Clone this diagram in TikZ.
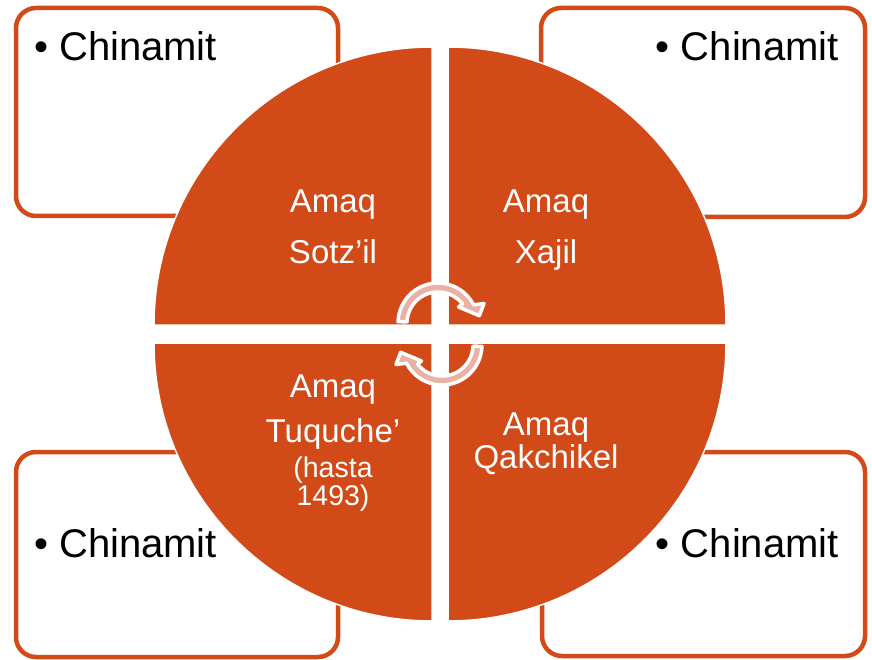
\documentclass[tikz,border=0pt]{standalone}
\usepackage{fontspec}
\setmainfont{Liberation Sans}
\definecolor{amaqorange}{RGB}{210,74,24}
\definecolor{arrowpink}{RGB}{233,178,164}

\begin{document}
\begin{tikzpicture}[x=1pt,y=-1pt,
	box/.style={draw=amaqorange,line width=4.5pt,rounded corners=20pt,fill=white},
	quad/.style={fill=amaqorange,draw=white,line width=1.5pt},
	cycle arrow/.style={fill=arrowpink,draw=white,line width=3.5pt,line join=round},
	chin/.style={inner sep=0pt,font=\fontsize{40}{48}\selectfont},
	amaq/.style={inner sep=0pt,anchor=base,text=white,font=\fontsize{33}{40}\selectfont},
	small/.style={amaq,font=\fontsize{28.5}{34}\selectfont}]
	\useasboundingbox (0,0) rectangle (872,660);
	% outer boxes
	\draw[box] (16,8) rectangle (338,216);
	\draw[box] (541,8) rectangle (865,217);
	\draw[box] (16,452) rectangle (338,657);
	\draw[box] (542,452) rectangle (865,656);
	% the four quarters
	\draw[quad] (432,325) -- ++(180:278) arc[start angle=180,end angle=270,radius=278] -- cycle;
	\draw[quad] (448,325) -- ++(270:278) arc[start angle=270,end angle=360,radius=278] -- cycle;
	\draw[quad] (448,343) -- ++(0:278) arc[start angle=0,end angle=90,radius=278] -- cycle;
	\draw[quad] (432,343) -- ++(90:278) arc[start angle=90,end angle=180,radius=278] -- cycle;
	% circular arrows
	\foreach \cx/\cy/\r in {438/323/0,442/345/180}{
	\begin{scope}[shift={(\cx,\cy)},rotate=\r]
		\draw[cycle arrow] (182:40) arc[start angle=182,end angle=333,radius=40]
			-- (337:50) -- (350:42) -- (322:26) -- (322:31)
			arc[start angle=322,end angle=182,radius=31] -- cycle;
	\end{scope}}
	% texts
	\node[chin,anchor=base west] (chinTL) at (34,61) {\makebox[25pt][l]{•}Chinamit};
	\node[chin,anchor=base east] (chinTR) at (839,61) {\makebox[25pt][l]{•}Chinamit};
	\node[chin,anchor=base west] (chinBL) at (34,557) {\makebox[25pt][l]{•}Chinamit};
	\node[chin,anchor=base east] (chinBR) at (839,557) {\makebox[25pt][l]{•}Chinamit};
	\node[amaq] (amaqTL) at (333,213) {Amaq};
	\node[amaq] (sotzil) at (333,263) {Sotz’il};
	\node[amaq] (amaqTR) at (546,213) {Amaq};
	\node[amaq] (xajil) at (546,263) {Xajil};
	\node[amaq] (amaqBL) at (333,397) {Amaq};
	\node[amaq] (tuquche) at (333,442) {Tuquche’};
	\node[small] (hasta) at (333,477) {(hasta};
	\node[small] (year) at (333,505) {1493)};
	\node[amaq] (amaqBR) at (546,435) {Amaq};
	\node[amaq] (qakchikel) at (546,468) {Qakchikel};
\end{tikzpicture}
\end{document}
